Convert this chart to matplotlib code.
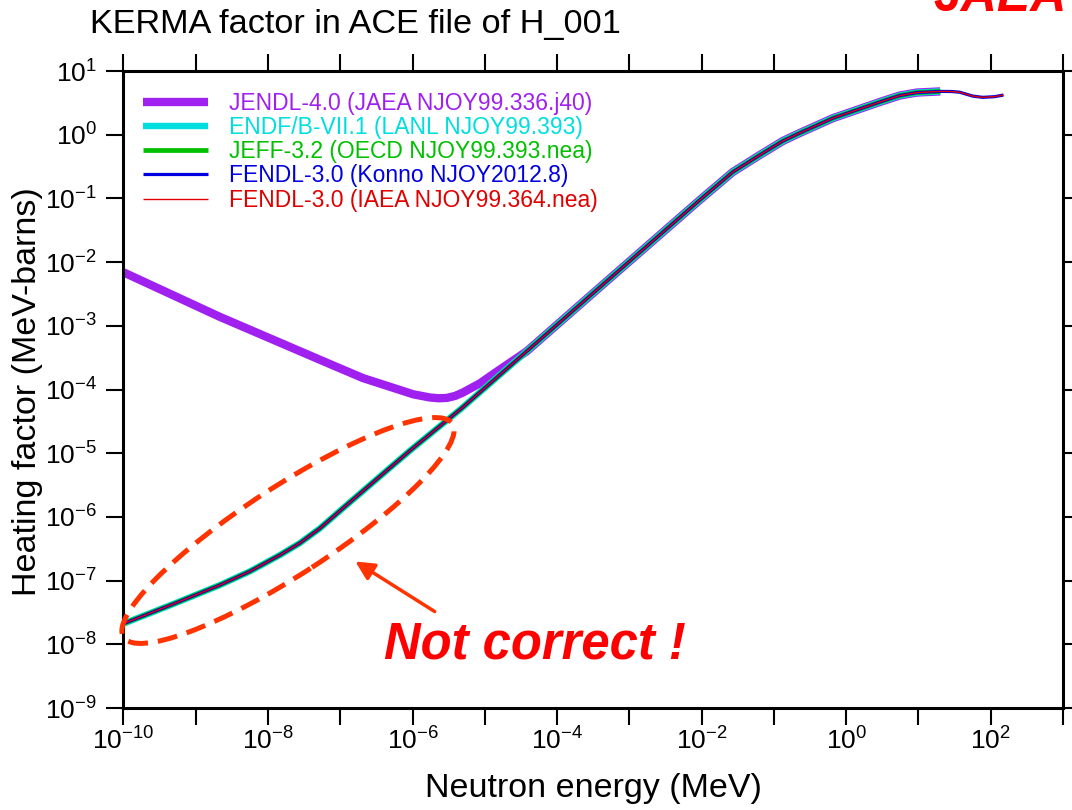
import numpy as np
import matplotlib
matplotlib.use("Agg")
import matplotlib.pyplot as plt
from matplotlib.patches import Ellipse

plt.rcParams['font.family'] = ['Liberation Sans', 'DejaVu Sans']
plt.rcParams['mathtext.fontset'] = 'custom'
plt.rcParams['mathtext.rm'] = 'Liberation Sans'
plt.rcParams['mathtext.it'] = 'Liberation Sans:italic'
plt.rcParams['mathtext.bf'] = 'Liberation Sans:bold'

# log10 of energy (MeV) and heating factor (MeV-barns)
common_loge = [-10.0, -9.311, -8.665, -8.250, -7.835, -7.559, -7.282, -6.960, -6.591,
               -6.037, -5.322, -4.700, -4.423, -3.295, -2.026, -1.570, -1.196, -0.878,
               -0.643, -0.187, 0.284, 0.505, 0.740, 0.975, 1.301]
common_logh = [-7.675, -7.367, -7.069, -6.854, -6.598, -6.410, -6.179, -5.86, -5.50,
               -4.96, -4.295, -3.677, -3.402, -2.281, -1.025, -0.586, -0.319, -0.099,
               0.027, 0.259, 0.443, 0.529, 0.615, 0.662, 0.680]

# JENDL-4.0 differs below ~3e-5 MeV
jendl_low_loge = [-10.0, -8.665, -7.144, -6.687, -6.217, -5.99, -5.761, -5.64, -5.526,
                  -5.41, -5.300, -5.069, -4.838]
jendl_low_logh = [-2.16, -2.86, -3.600, -3.820, -3.992, -4.075, -4.125, -4.137, -4.132,
                  -4.10, -4.045, -3.903, -3.721]

# FENDL-3.0 continues to 150 MeV
fendl_high_loge = [1.45, 1.569, 1.75, 1.887, 2.05, 2.176]
fendl_high_logh = [0.679, 0.668, 0.607, 0.587, 0.597, 0.623]

labels = ['JENDL-4.0 (JAEA NJOY99.336.j40)',
          'ENDF/B-VII.1 (LANL NJOY99.393)',
          'JEFF-3.2 (OECD NJOY99.393.nea)',
          'FENDL-3.0 (Konno NJOY2012.8)',
          'FENDL-3.0 (IAEA NJOY99.364.nea)']
colors = ['#a020f0', '#00dede', '#00c000', '#0000e0', '#e00000']
widths = [6.0, 4.6, 3.4, 2.3, 1.0]

e_common = 10.0 ** np.array(common_loge)
h_common = 10.0 ** np.array(common_logh)
e_jendl = 10.0 ** np.array(jendl_low_loge + common_loge[12:])
h_jendl = 10.0 ** np.array(jendl_low_logh + common_logh[12:])
e_fendl = 10.0 ** np.array(common_loge + fendl_high_loge)
h_fendl = 10.0 ** np.array(common_logh + fendl_high_logh)

series = [(e_jendl, h_jendl), (e_common, h_common), (e_common, h_common),
          (e_fendl, h_fendl), (e_fendl, h_fendl)]

fig = plt.figure(figsize=(10.72, 8.10), dpi=100)
ax = fig.add_axes([0.1152, 0.1259, 0.8764, 0.7864])

for i, (e, h) in enumerate(series):
    ax.plot(e, h, color=colors[i], lw=widths[i], label=labels[i],
            solid_capstyle='butt', solid_joinstyle='round', zorder=2 + i)

ax.set_xscale('log')
ax.set_yscale('log')
ax.set_xlim(1e-10, 1e3)
ax.set_ylim(1e-9, 1e1)
ax.set_xticks([10.0 ** k for k in range(-10, 4)])
ax.set_xticklabels([r'$10^{%d}$' % k if k % 2 == 0 and k < 3 else '' for k in range(-10, 4)])
ax.set_yticks([10.0 ** k for k in range(-9, 2)])
ax.set_yticklabels([r'$10^{%d}$' % k for k in range(-9, 2)])
ax.minorticks_off()
ax.tick_params(axis='both', which='major', direction='out', length=12, width=1.5,
               labelsize=19, top=True, right=True)
ax.tick_params(axis='x', pad=2)
ax.tick_params(axis='y', pad=7)
for s in ax.spines.values():
    s.set_linewidth(2.2)

leg = ax.legend(loc='upper left', bbox_to_anchor=(0.0208, 0.967), frameon=False,
                fontsize=16.5, handlelength=2.85, handletextpad=0.9, labelspacing=0.05,
                borderpad=0, borderaxespad=0, labelcolor='linecolor')

fig.text(90 / 1072, (810 - 25) / 810, 'KERMA factor in ACE file of H_001',
         fontsize=24.7, ha='left', va='center')
fig.text(0.554, 0.027, 'Neutron energy (MeV)', fontsize=24.5, ha='center', va='center')
fig.text(28 / 1072, (810 - 392) / 810, 'Heating factor (MeV-barns)', fontsize=24.5,
         rotation=90, ha='center', va='center')

fig.text(933 / 1072, (810 - 11) / 810, 'JAEA', fontsize=36, color='#ff0000',
         weight='bold', style='italic', ha='left', va='baseline')

ell = Ellipse((2.88, 2.795), 3.92, 0.88, angle=33, transform=fig.dpi_scale_trans,
              fill=False, edgecolor='#ff3300', lw=3.6, linestyle=(0, (4, 2)), zorder=10)
fig.add_artist(ell)

ax.annotate('', xy=(353 / 1072, (810 - 560) / 810), xytext=(437 / 1072, (810 - 613) / 810),
            xycoords='figure fraction', textcoords='figure fraction',
            arrowprops=dict(arrowstyle='-|>', color='#ff3300', lw=2.5, mutation_scale=28))
fig.text(0.499, (810 - 645) / 810, 'Not correct !', fontsize=36.5, color='#ff0000',
         weight='bold', style='italic', ha='center', va='center')

fig.savefig('out.png', dpi=100)
